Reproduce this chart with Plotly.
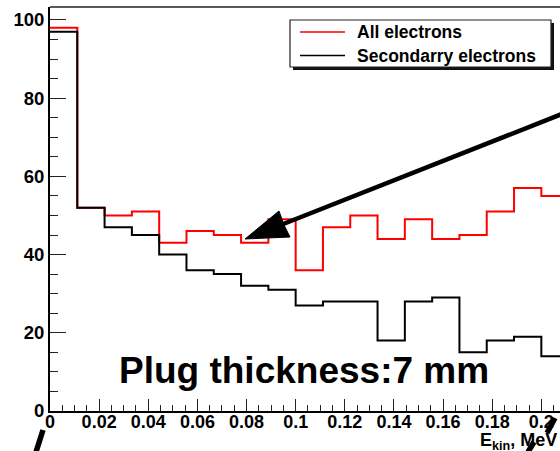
import plotly.graph_objects as go

# ---- data ----
bin_width = 0.2 / 18
n_bins = 19
bin_edges = [i * bin_width for i in range(n_bins + 1)]
all_electrons = [98, 52, 50, 51, 43, 46, 45, 43, 49, 36, 47, 50, 44, 49, 44, 45, 51, 57, 55]
secondary_electrons = [97, 52, 47, 45, 40, 36, 35, 32, 31, 27, 28, 28, 18, 28, 29, 15, 18, 19, 14]
x_tick_vals = [0, 0.02, 0.04, 0.06, 0.08, 0.1, 0.12, 0.14, 0.16, 0.18, 0.2]
x_tick_text = ["0", "0.02", "0.04", "0.06", "0.08", "0.1", "0.12", "0.14", "0.16", "0.18", "0.2"]
y_tick_vals = [0, 20, 40, 60, 80, 100]
series_names = ["All electrons", "Secondarry electrons"]

# ---- layout geometry (pixels) ----
W, H = 560, 451
L, R, T, B = 50, 0, 7, 40
PW, PH = W - L - R, H - T - B
X_MAX = 0.2076
Y_MAX = 103.3

def px(p):
    return (p - L) / PW

def py(p):
    return (H - B - p) / PH

FONT = "Liberation Sans, Arial, Helvetica, sans-serif"

fig = go.Figure()
colors = ["#ff0000", "#000000"]
for name, vals, col in zip(series_names, [all_electrons, secondary_electrons], colors):
    fig.add_trace(go.Scatter(
        x=bin_edges, y=vals + [vals[-1]], mode="lines", name=name,
        line=dict(color=col, width=2, shape="hv"), showlegend=False,
    ))

shapes = []
# top frame
shapes.append(dict(type="line", xref="paper", yref="paper", x0=0, x1=1, y0=1, y1=1,
                   line=dict(color="#222", width=1.5)))
# legend shadow + box
shapes.append(dict(type="rect", xref="paper", yref="paper",
                   x0=px(293), x1=px(554), y0=py(70), y1=py(23),
                   fillcolor="#111", line=dict(width=0)))
shapes.append(dict(type="rect", xref="paper", yref="paper",
                   x0=px(290), x1=px(551), y0=py(67), y1=py(20),
                   fillcolor="white", line=dict(color="#222", width=1.2)))
legend_rows = [32, 55.5]
for col, yy in zip(colors, legend_rows):
    shapes.append(dict(type="line", xref="paper", yref="paper",
                       x0=px(300), x1=px(345), y0=py(yy), y1=py(yy),
                       line=dict(color=col, width=1.5)))
# arrow shaft + head
shapes.append(dict(type="line", xref="paper", yref="paper",
                   x0=px(600), y0=py(99), x1=px(282), y1=py(224.5),
                   line=dict(color="black", width=4.5)))
shapes.append(dict(type="path", xref="paper", yref="paper",
                   path=f"M{px(245)},{py(239)} L{px(279)},{py(211)} L{px(284)},{py(225)} L{px(290)},{py(237)} Z",
                   fillcolor="black", line=dict(color="black", width=1)))
# stray thick strokes
for (x0, y0, x1, y1) in [(36, 452, 43, 430), (528, 452, 534, 442), (547, 433, 555, 418)]:
    shapes.append(dict(type="line", xref="paper", yref="paper",
                       x0=px(x0), y0=py(y0), x1=px(x1), y1=py(y1),
                       line=dict(color="black", width=5.5)))

annotations = []
for name, yy in zip(series_names, legend_rows):
    annotations.append(dict(xref="paper", yref="paper", x=px(355), y=py(yy),
                            xanchor="left", yanchor="middle", showarrow=False, text=name,
                            font=dict(family=FONT, size=17.5, color="black", weight="bold")))
annotations.append(dict(xref="paper", yref="paper", x=px(304), y=py(370),
                        xanchor="center", yanchor="middle", showarrow=False,
                        text="Plug thickness:7 mm",
                        font=dict(family=FONT, size=37, color="black", weight="bold")))
annotations.append(dict(xref="paper", yref="paper", x=px(478), y=py(441),
                        xanchor="left", yanchor="middle", showarrow=False,
                        text="E<sub>kin</sub>, MeV",
                        font=dict(family=FONT, size=18, color="black", weight="bold")))

fig.update_layout(
    width=W, height=H,
    margin=dict(l=L, r=R, t=T, b=B, pad=0),
    paper_bgcolor="white", plot_bgcolor="white",
    shapes=shapes, annotations=annotations,
    xaxis=dict(range=[0, X_MAX], tickvals=x_tick_vals, ticktext=x_tick_text,
               ticks="inside", ticklen=12, tickwidth=1, tickcolor="#222",
               ticklabelstandoff=-7,
               minor=dict(ticks="inside", ticklen=6, dtick=0.005, tick0=0, tickcolor="#222", tickwidth=1),
               showline=True, linecolor="black", linewidth=2, showgrid=False, zeroline=False,
               tickfont=dict(family=FONT, size=18, color="black", weight="bold")),
    yaxis=dict(range=[0, Y_MAX], tickvals=y_tick_vals,
               ticks="inside", ticklen=16, tickwidth=1, tickcolor="#222",
               minor=dict(ticks="inside", ticklen=8, dtick=5, tick0=0, tickcolor="#222", tickwidth=1),
               showline=True, linecolor="black", linewidth=2, showgrid=False, zeroline=False,
               tickfont=dict(family=FONT, size=18.5, color="black", weight="bold")),
)

fig.write_html("out.html")
